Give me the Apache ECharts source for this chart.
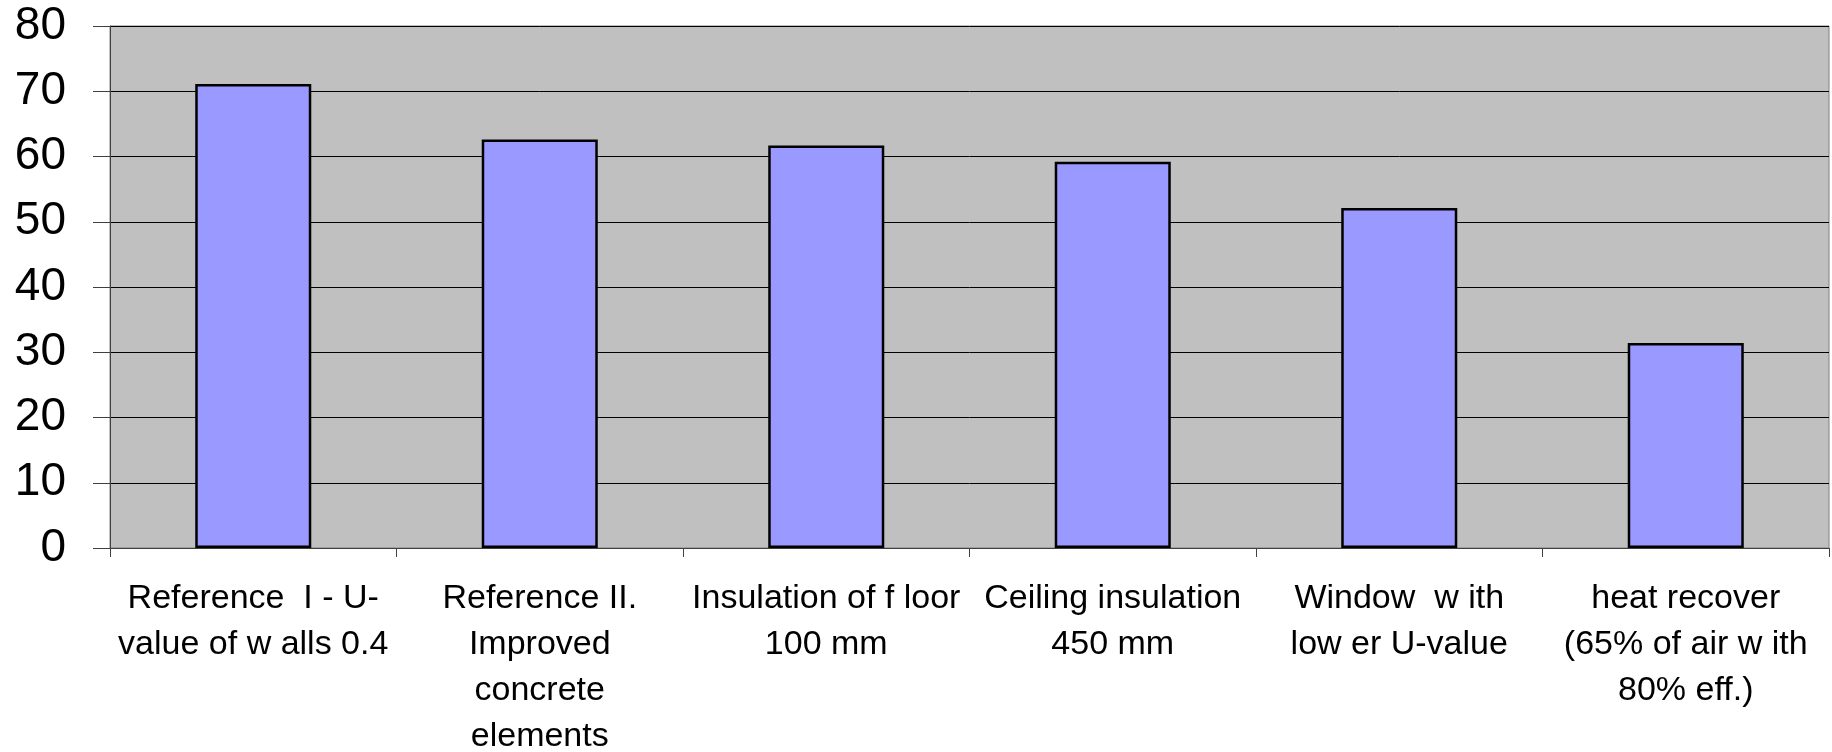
<!DOCTYPE html>
<html>
<head>
<meta charset="utf-8">
<title>Heating demand by measure</title>
<script src="https://cdn.jsdelivr.net/npm/echarts@6/dist/echarts.min.js"></script>
<style>
  html, body { margin: 0; padding: 0; background: #ffffff; }
  #chart { width: 1832px; height: 752px; }
</style>
</head>
<body>
<div id="chart"></div>
<script>
// Measures compared, in the order they are plotted
const categories = [
  'Reference  I - U-\nvalue of w alls 0.4',
  'Reference II.\nImproved\nconcrete\nelements',
  'Insulation of f loor\n100 mm',
  'Ceiling insulation\n450 mm',
  'Window  w ith\nlow er U-value',
  'heat recover\n(65% of air w ith\n80% eff.)'
];

// Value for each measure
const values = [71.1, 62.6, 61.7, 59.2, 52.1, 31.4];

// Value axis range and step
const yMin = 0;
const yMax = 80;
const yStep = 10;

const chart = echarts.init(document.getElementById('chart'), null, { renderer: 'canvas' });

chart.setOption({
  animation: false,
  backgroundColor: '#ffffff',
  textStyle: { fontFamily: '"Liberation Sans", Arial, sans-serif' },
  grid: {
    left: 110,
    right: 3,
    top: 26,
    bottom: 204,
    containLabel: false,
    outerBoundsMode: 'none',
    show: true,
    backgroundColor: '#c0c0c0',
    borderColor: '#808080',
    borderWidth: 1
  },
  xAxis: {
    type: 'category',
    data: categories,
    axisLine: { show: true, lineStyle: { color: '#404040', width: 1 } },
    axisTick: { show: true, alignWithLabel: false, length: 9, lineStyle: { color: '#404040' } },
    axisLabel: {
      interval: 0,
      margin: 28,
      color: '#000000',
      fontSize: 34,
      lineHeight: 46,
      fontFamily: '"Liberation Sans", Arial, sans-serif'
    },
    splitLine: { show: false }
  },
  yAxis: {
    type: 'value',
    min: yMin,
    max: yMax,
    interval: yStep,
    axisLine: { show: true, lineStyle: { color: '#404040', width: 1 } },
    axisTick: { show: true, length: 17, lineStyle: { color: '#404040' } },
    axisLabel: {
      margin: 44,
      color: '#000000',
      fontSize: 46,
      fontFamily: '"Liberation Sans", Arial, sans-serif'
    },
    splitLine: { show: true, lineStyle: { color: '#000000', width: 1 } }
  },
  series: [{
    type: 'bar',
    data: values,
    barWidth: '40.5%',
    itemStyle: {
      color: '#9999ff',
      borderColor: '#000000',
      borderWidth: 2.5
    }
  }]
});
</script>
</body>
</html>
